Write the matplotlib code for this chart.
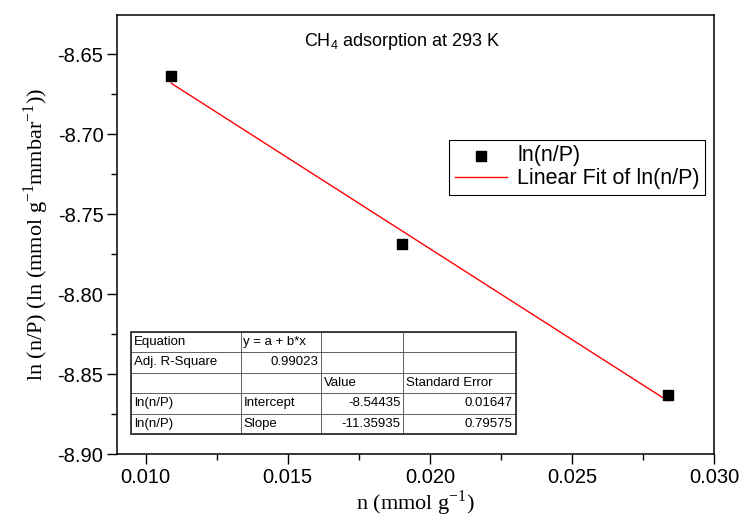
import matplotlib
matplotlib.use("Agg")
import matplotlib.pyplot as plt
from matplotlib.ticker import MultipleLocator
from matplotlib.patches import Rectangle
import numpy as np

# data
n_vals = [0.0109, 0.01902, 0.02837]
ln_nP = [-8.6639, -8.7684, -8.8629]
intercept = -8.54435
slope = -11.35935

x_ticks = [0.010, 0.015, 0.020, 0.025, 0.030]
y_ticks = [-8.90, -8.85, -8.80, -8.75, -8.70, -8.65]

table_rows = [
    ["Equation", "y = a + b*x", "", ""],
    ["Adj. R-Square", "0.99023", "", ""],
    ["", "", "Value", "Standard Error"],
    ["ln(n/P)", "Intercept", "-8.54435", "0.01647"],
    ["ln(n/P)", "Slope", "-11.35935", "0.79575"],
]
right_cells = {(1, 1), (3, 2), (3, 3), (4, 2), (4, 3)}

plt.rcParams['mathtext.fontset'] = 'custom'
plt.rcParams['mathtext.rm'] = 'Liberation Serif'
plt.rcParams['mathtext.sf'] = 'Liberation Sans'

fig = plt.figure(figsize=(7.47, 5.24), dpi=100)
ax = fig.add_axes([0.157, 0.133, 0.799, 0.838])

ax.scatter(n_vals, ln_nP, marker='s', s=55, color='black', zorder=3, label='ln(n/P)')
xf = np.array([min(n_vals), max(n_vals)])
ax.plot(xf, intercept + slope * xf, color='red', lw=1.0, label='Linear Fit of ln(n/P)')

ax.set_xlim(0.009, 0.030)
ax.set_ylim(-8.90, -8.6256)
ax.set_xticks(x_ticks)
ax.set_yticks(y_ticks)
ax.set_xticklabels([f"{v:.3f}" for v in x_ticks], fontfamily='Liberation Sans', fontsize=14.5)
ax.set_yticklabels([f"{v:.2f}" for v in y_ticks], fontfamily='Liberation Sans', fontsize=14.5)
ax.xaxis.set_minor_locator(MultipleLocator(0.0025))
ax.yaxis.set_minor_locator(MultipleLocator(0.025))
ax.tick_params(which='major', direction='out', length=7, width=1, top=False, right=False, pad=3)
ax.tick_params(which='minor', direction='out', length=4, width=1, top=False, right=False)
for sp in ax.spines.values():
    sp.set_linewidth(1.1)

ax.set_xlabel(r"n (mmol g$^{\mathrm{-1}}$)", fontfamily='Liberation Serif', fontsize=16, labelpad=1)
ax.set_ylabel(r"ln (n/P) (ln (mmol g$^{\mathrm{-1}}$mmbar$^{\mathrm{-1}}$))",
              fontfamily='Liberation Serif', fontsize=16, labelpad=5)

ax.text(0.478, 0.939, r"CH$_\mathsf{4}$ adsorption at 293 K", transform=ax.transAxes,
        ha='center', va='center', fontfamily='Liberation Sans', fontsize=13)

leg = ax.legend(loc='upper right', bbox_to_anchor=(0.985, 0.716), prop={'family': 'Liberation Sans', 'size': 15.5},
                fancybox=False, edgecolor='black', framealpha=1, handlelength=2.4,
                borderpad=0.25, labelspacing=0.1, handletextpad=0.5, borderaxespad=0)
leg.get_frame().set_linewidth(0.8)

col_w = [110, 80, 82, 113]
tw = sum(col_w)
tbl = ax.table(cellText=table_rows, colWidths=[w / tw for w in col_w],
               bbox=[0.023, 0.046, 0.645, 0.233], cellLoc='left')
tbl.auto_set_font_size(False)
for (r, c), cell in tbl.get_celld().items():
    cell.set_linewidth(0.6)
    cell.set_edgecolor('#555555')
    cell.PAD = 0.03
    t = cell.get_text()
    t.set_fontfamily('Liberation Sans')
    t.set_fontsize(9.5)
    if (r, c) in right_cells:
        t.set_ha('right')
        cell._loc = 'right'
    else:
        cell._loc = 'left'
ax.add_patch(Rectangle((0.023, 0.046), 0.645, 0.233, transform=ax.transAxes, fill=False,
                       lw=1.3, edgecolor='#333333', zorder=5))

fig.savefig("out.png", dpi=100)
